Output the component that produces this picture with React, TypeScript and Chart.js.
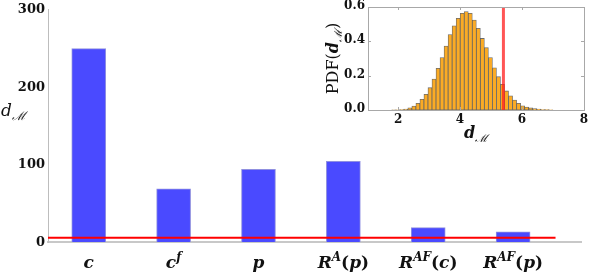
import React, { useEffect, useRef } from "react";
import { Chart, registerables } from "chart.js";

Chart.register(...registerables);

// ---------- data ----------
const categories = ["c", "c^f", "p", "R^A(p)", "R^AF(c)", "R^AF(p)"];
const dValues = [249, 68.5, 93.5, 104, 18.5, 13];
const threshold = 5.4;
const mainYTicks = [0, 100, 200, 300];

const pdfBinStart = 1.6; // centre of first bin
const pdfBinWidth = 0.13;
const pdfValues = [
  0, 0, 0.0005, 0.001, 0.003, 0.006, 0.013, 0.023, 0.039, 0.062, 0.091, 0.13,
  0.18, 0.243, 0.305, 0.373, 0.44, 0.49, 0.534, 0.563, 0.573, 0.563, 0.524,
  0.476, 0.417, 0.363, 0.305, 0.246, 0.194, 0.15, 0.111, 0.083, 0.058, 0.039,
  0.025, 0.017, 0.012, 0.008, 0.005, 0.003, 0.002, 0.001,
];
const pdfXTicks = [2, 4, 6, 8];
const pdfYTicks = [0, 0.2, 0.4, 0.6];

// ---------- math text helpers ----------
type Part = { t: string; font: string; dy: number };
const FAM = '"DejaVu Serif", "Liberation Serif", serif';
const TEXT = "#111";

function textParts(s: string, size: number, dy = 0): Part[] {
  const parts: Part[] = [];
  for (const ch of s) {
    const letter = /[A-Za-z]/.test(ch);
    parts.push({
      t: ch,
      font: `${letter ? "italic " : ""}bold ${size}px ${FAM}`,
      dy,
    });
  }
  return parts;
}

function labelParts(label: string, size: number): Part[] {
  const m = label.match(/^([^\^(]*)(?:\^([A-Za-z]+))?(.*)$/) || ["", label, "", ""];
  const parts: Part[] = [];
  parts.push(...textParts(m[1], size));
  if (m[2]) parts.push(...textParts(m[2], Math.round(size * 0.68), -size * 0.42));
  if (m[3]) parts.push(...textParts(m[3], size));
  return parts;
}

function dmParts(size: number, bold = true): Part[] {
  return [
    { t: "d", font: `italic ${bold ? "bold " : ""}${size}px ${FAM}`, dy: 0 },
    { t: "ℳ", font: `italic ${Math.round(size * 0.68)}px ${FAM}`, dy: size * 0.22 },
  ];
}

function partsWidth(ctx: CanvasRenderingContext2D, parts: Part[]) {
  let w = 0;
  for (const p of parts) {
    ctx.font = p.font;
    w += ctx.measureText(p.t).width;
  }
  return w;
}

function drawParts(
  ctx: CanvasRenderingContext2D,
  parts: Part[],
  x: number,
  y: number,
  align: "left" | "center"
) {
  const w = partsWidth(ctx, parts);
  let cx = align === "center" ? x - w / 2 : x;
  ctx.textAlign = "left";
  ctx.textBaseline = "alphabetic";
  ctx.fillStyle = TEXT;
  for (const p of parts) {
    ctx.font = p.font;
    ctx.fillText(p.t, cx, y + p.dy);
    cx += ctx.measureText(p.t).width;
  }
}

// ---------- plugins ----------
const mainTextPlugin = {
  id: "mainText",
  afterDraw(chart: any) {
    const ctx = chart.ctx as CanvasRenderingContext2D;
    const xs = chart.scales.x;
    const ys = chart.scales.y;
    ctx.save();
    // y tick labels
    ctx.font = `bold 13px ${FAM}`;
    ctx.fillStyle = TEXT;
    ctx.textAlign = "right";
    ctx.textBaseline = "middle";
    mainYTicks.forEach((v) => {
      ctx.fillText(String(v), 45, ys.getPixelForValue(v) + 0.5);
    });
    // x category labels
    categories.forEach((c, i) => {
      const px = xs.getPixelForValue(i + 1);
      drawParts(ctx, labelParts(c, 17), px, 268, "center");
    });
    drawParts(ctx, dmParts(17, false), 1, 116, "left");
    ctx.restore();
  },
};

const insetPlugin = {
  id: "insetText",
  afterDraw(chart: any) {
    const ctx = chart.ctx as CanvasRenderingContext2D;
    const a = chart.chartArea;
    const xs = chart.scales.x;
    const ys = chart.scales.y;
    ctx.save();
    ctx.strokeStyle = "#a8a8a8";
    ctx.lineWidth = 1;
    ctx.strokeRect(Math.round(a.left) + 0.5, Math.round(a.top) + 0.5, Math.round(a.right - a.left), Math.round(a.bottom - a.top));
    ctx.beginPath();
    pdfXTicks.forEach((v) => {
      const px = Math.round(xs.getPixelForValue(v)) + 0.5;
      ctx.moveTo(px, a.bottom);
      ctx.lineTo(px, a.bottom - 3);
      ctx.moveTo(px, a.top);
      ctx.lineTo(px, a.top + 3);
    });
    pdfYTicks.forEach((v) => {
      const py = Math.round(ys.getPixelForValue(v)) + 0.5;
      ctx.moveTo(a.left, py);
      ctx.lineTo(a.left + 3, py);
      ctx.moveTo(a.right, py);
      ctx.lineTo(a.right - 3, py);
    });
    ctx.stroke();
    // tick labels
    ctx.font = `bold 12px ${FAM}`;
    ctx.fillStyle = TEXT;
    ctx.textAlign = "right";
    ctx.textBaseline = "middle";
    pdfYTicks.forEach((v) => {
      ctx.fillText(v.toFixed(1), 65, ys.getPixelForValue(v) - 1);
    });
    ctx.textAlign = "center";
    pdfXTicks.forEach((v) => {
      ctx.fillText(String(v), xs.getPixelForValue(v), 120);
    });
    // x title
    drawParts(ctx, dmParts(16, true), (a.left + a.right) / 2, 138, "center");
    // y title (rotated)
    ctx.translate(33, (a.top + a.bottom) / 2);
    ctx.rotate(-Math.PI / 2);
    const parts: Part[] = [
      { t: "PDF(", font: `16px ${FAM}`, dy: 0 },
      ...dmParts(16, true),
      { t: ")", font: `16px ${FAM}`, dy: 0 },
    ];
    drawParts(ctx, parts, 0, 5, "center");
    ctx.restore();
  },
};

export default function App() {
  const mainRef = useRef<HTMLCanvasElement>(null);
  const insetRef = useRef<HTMLCanvasElement>(null);

  useEffect(() => {
    document.body.style.margin = "0";
    const main = new Chart(mainRef.current as HTMLCanvasElement, {
      type: "bar",
      data: {
        datasets: [
          {
            type: "line",
            data: [
              { x: 0.5, y: threshold },
              { x: 6.5, y: threshold },
            ],
            borderColor: "#ff0000",
            borderWidth: 2,
            pointRadius: 0,
            order: 0,
          } as any,
          {
            type: "bar",
            data: dValues.map((v, i) => ({ x: i + 1, y: v })),
            backgroundColor: "#4a4aff",
            borderColor: "#9090e0",
            borderWidth: 1,
            barThickness: 34,
            order: 1,
          } as any,
        ],
      },
      options: {
        animation: false,
        responsive: false,
        maintainAspectRatio: false,
        layout: { padding: { top: 9, right: 17, left: 0, bottom: 0 } },
        plugins: { legend: { display: false }, tooltip: { enabled: false } },
        scales: {
          x: {
            type: "linear",
            min: 0.52,
            max: 6.8,
            offset: false,
            grid: { display: false, drawTicks: false, tickLength: 0 },
            border: { display: true, color: "#c8c8c8", width: 2 },
            ticks: { display: false },
            afterFit: (s: any) => {
              s.height = 33;
              s.paddingLeft = 0;
              s.paddingRight = 0;
            },
          },
          y: {
            min: 0,
            max: 300,
            grid: { display: false, drawTicks: false, tickLength: 0 },
            border: { display: true, color: "#bdbdbd", width: 1 },
            ticks: { display: false },
            afterFit: (s: any) => {
              s.width = 48;
              s.paddingTop = 0;
              s.paddingBottom = 0;
            },
          },
        },
      } as any,
      plugins: [mainTextPlugin],
    });

    const inset = new Chart(insetRef.current as HTMLCanvasElement, {
      type: "bar",
      data: {
        datasets: [
          {
            type: "line",
            data: [
              { x: threshold, y: 0 },
              { x: threshold, y: 0.6 },
            ],
            borderColor: "rgba(255,30,30,0.75)",
            borderWidth: 3,
            pointRadius: 0,
            order: 0,
          } as any,
          {
            type: "bar",
            data: pdfValues.map((v, i) => ({ x: pdfBinStart + i * pdfBinWidth, y: v })),
            backgroundColor: "#fbab24",
            borderColor: "rgba(80,80,80,0.85)",
            borderWidth: 0.8,
            borderSkipped: false,
            barPercentage: 1,
            categoryPercentage: 1,
            order: 1,
          } as any,
        ],
      },
      options: {
        animation: false,
        responsive: false,
        maintainAspectRatio: false,
        layout: { padding: { top: 7, right: 14, left: 0, bottom: 0 } },
        plugins: { legend: { display: false }, tooltip: { enabled: false } },
        scales: {
          x: {
            type: "linear",
            min: 1.03,
            max: 8,
            offset: false,
            grid: { display: false, drawTicks: false, tickLength: 0 },
            border: { display: false },
            ticks: { display: false },
            afterFit: (s: any) => {
              s.height = 35;
              s.paddingLeft = 0;
              s.paddingRight = 0;
            },
          },
          y: {
            min: 0,
            max: 0.6,
            grid: { display: false, drawTicks: false, tickLength: 0 },
            border: { display: false },
            ticks: { display: false },
            afterFit: (s: any) => {
              s.width = 68;
              s.paddingTop = 0;
              s.paddingBottom = 0;
            },
          },
        },
      } as any,
      plugins: [insetPlugin],
    });

    return () => {
      main.destroy();
      inset.destroy();
    };
  }, []);

  return (
    <div style={{ position: "relative", width: 598, height: 275, background: "#fff" }}>
      <canvas
        ref={mainRef}
        width={598}
        height={275}
        style={{ position: "absolute", left: 0, top: 0, display: "block" }}
      />
      <canvas
        ref={insetRef}
        width={298}
        height={145}
        style={{ position: "absolute", left: 300, top: 0, display: "block" }}
      />
    </div>
  );
}
